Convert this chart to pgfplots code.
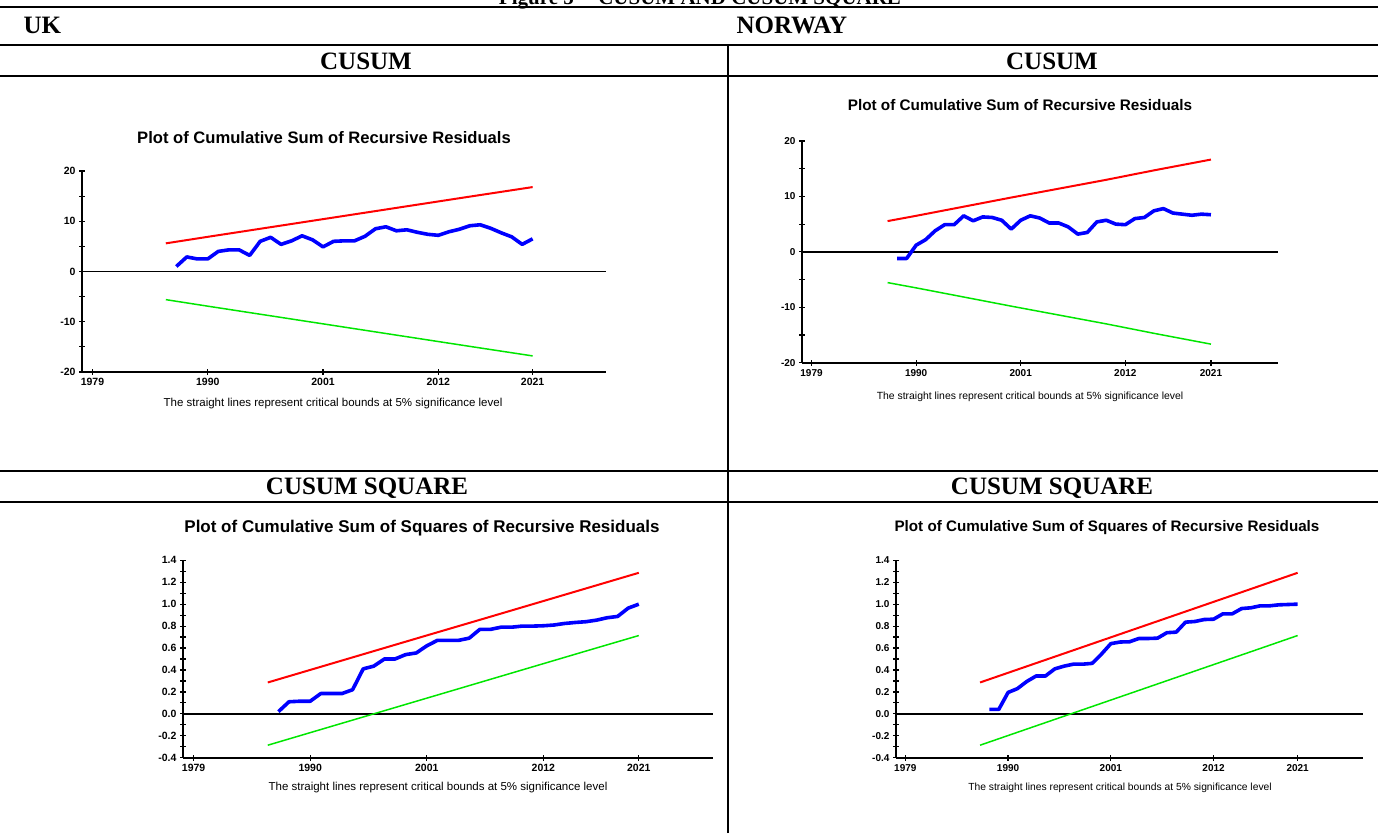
\documentclass[border=0pt]{standalone}
\usepackage{pgfplots}
\pgfplotsset{compat=1.18}
\usepackage{fontspec}
\setmainfont{Liberation Sans}
\newfontfamily\tnr{Liberation Serif}
\definecolor{cblue}{RGB}{0,0,255}
\definecolor{cred}{RGB}{255,0,0}
\definecolor{cgreen}{RGB}{0,230,0}

\pgfplotsset{
  base/.style={
    scale only axis,
    axis lines*=left,
    axis line style={black, line width=1.8pt},
    xmin=1978, xmax=2028,
    xtick={1979,1990,2001,2012,2021},
    xticklabels={1979,1990,2001,2012,2021},
    tick align=center,
    major tick length=6pt,
    minor tick length=6pt,
    tick style={black, line width=1.2pt},
    ticklabel style={font=\fontsize{10.5}{12}\selectfont\bfseries},
    clip=false,
  },
  cusum/.style={base,
    ymin=-20, ymax=20,
    ytick={-20,-15,-10,-5,0,5,10,15,20},
    yticklabels={-20,,-10,,0,,10,,20},
  },
  cusumsq/.style={base,
    ymin=-0.4, ymax=1.4,
    ytick={-0.4,-0.3,-0.2,-0.1,0,0.1,0.2,0.3,0.4,0.5,0.6,0.7,0.8,0.9,1.0,1.1,1.2,1.3,1.4},
    yticklabels={-0.4,,-0.2,,0.0,,0.2,,0.4,,0.6,,0.8,,1.0,,1.2,,1.4},
  },
  bluel/.style={cblue, line width=3.6pt, line join=round, no marks},
  redl/.style={cred, line width=2pt, no marks},
  greenl/.style={cgreen, line width=1.5pt, no marks},
  zerol/.style={black, line width=1.5pt, no marks},
}

\begin{document}
\begin{tikzpicture}
\path[use as bounding box] (0pt,0pt) rectangle (1383pt,833pt);
\clip (0pt,0pt) rectangle (1383pt,833pt);

% table frame
\draw[line width=1.2pt] (0pt,826pt) -- (1378pt,826pt);
\draw[line width=2pt] (0pt,788pt) -- (1378pt,788pt);
\draw[line width=2pt] (0pt,757pt) -- (1378pt,757pt);
\draw[line width=2pt] (0pt,362pt) -- (1378pt,362pt);
\draw[line width=2pt] (0pt,331pt) -- (1378pt,331pt);
\draw[line width=2pt] (728pt,788pt) -- (728pt,331pt);
\draw[line width=1.2pt] (728pt,331pt) -- (728pt,0pt);
\draw[line width=2.5pt] (728pt,0pt) -- (728pt,11pt);

% headers
\node[anchor=base, font=\tnr\bfseries\fontsize{21}{24}\selectfont] at (700pt,828pt) {Figure 5 -- CUSUM AND CUSUM SQUARE};
\node[anchor=west, font=\tnr\bfseries\fontsize{25}{28}\selectfont] at (20pt,808pt) {UK};
\node[anchor=west, font=\tnr\bfseries\fontsize{25}{28}\selectfont] at (733pt,808pt) {NORWAY};
\node[font=\tnr\bfseries\fontsize{25}{28}\selectfont] at (366pt,772pt) {CUSUM};
\node[font=\tnr\bfseries\fontsize{25}{28}\selectfont] at (1052pt,772pt) {CUSUM};
\node[font=\tnr\bfseries\fontsize{25}{28}\selectfont] at (367pt,345pt) {CUSUM SQUARE};
\node[font=\tnr\bfseries\fontsize{25}{28}\selectfont] at (1052pt,345pt) {CUSUM SQUARE};

% ---------------- UK CUSUM
\begin{axis}[cusum, at={(82pt,461pt)}, anchor=south west, width=524pt, height=201pt]
\addplot[zerol] coordinates {(1978,0) (2028,0)};
\addplot[redl] coordinates {(1986,5.6) (1990,6.9) (1995,8.5) (2000,10.1) (2005,11.7) (2010,13.3) (2015,14.9) (2021,16.8)};
\addplot[greenl] coordinates {(1986,-5.6) (1990,-6.9) (1995,-8.5) (2000,-10.1) (2005,-11.7) (2010,-13.3) (2015,-14.9) (2021,-16.8)};
\addplot[bluel] coordinates {
(1987,1.0) (1988,2.9) (1989,2.5) (1990,2.5) (1991,4.0) (1992,4.3) (1993,4.3) (1994,3.2)
(1995,6.0) (1996,6.8) (1997,5.4) (1998,6.1) (1999,7.1) (2000,6.3) (2001,4.9) (2002,6.0)
(2003,6.1) (2004,6.1) (2005,7.0) (2006,8.5) (2007,8.9) (2008,8.1) (2009,8.3) (2010,7.8)
(2011,7.4) (2012,7.2) (2013,7.9) (2014,8.4) (2015,9.1) (2016,9.3) (2017,8.6) (2018,7.7)
(2019,6.9) (2020,5.4) (2021,6.5)};
\end{axis}

% ---------------- NORWAY CUSUM
\begin{axis}[cusum, at={(802pt,470.3pt)}, anchor=south west, width=475.5pt, height=221.7pt,
  ticklabel style={font=\fontsize{10}{12}\selectfont\bfseries}]
\addplot[zerol] coordinates {(1978,0) (2028,0)};
\addplot[redl] coordinates {(1987,5.55) (1990,6.5) (1995,8.15) (2000,9.8) (2005,11.4) (2010,13.0) (2015,14.7) (2021,16.65)};
\addplot[greenl] coordinates {(1987,-5.55) (1990,-6.5) (1995,-8.15) (2000,-9.8) (2005,-11.4) (2010,-13.0) (2015,-14.7) (2021,-16.65)};
\addplot[bluel] coordinates {
(1988,-1.2) (1989,-1.2) (1990,1.2) (1991,2.2) (1992,3.8) (1993,4.9) (1994,4.9) (1995,6.5)
(1996,5.6) (1997,6.3) (1998,6.2) (1999,5.7) (2000,4.1) (2001,5.7) (2002,6.5) (2003,6.1)
(2004,5.2) (2005,5.2) (2006,4.5) (2007,3.2) (2008,3.5) (2009,5.4) (2010,5.7) (2011,5.0)
(2012,4.9) (2013,6.0) (2014,6.2) (2015,7.4) (2016,7.8) (2017,7.0) (2018,6.8) (2019,6.6)
(2020,6.8) (2021,6.7)};
\end{axis}

% ---------------- UK CUSUM SQUARE
\begin{axis}[cusumsq, at={(183pt,75.3pt)}, anchor=south west, width=530pt, height=197.4pt]
\addplot[zerol] coordinates {(1978,0) (2028,0)};
\addplot[redl] coordinates {(1986,0.286) (1991,0.429) (1996,0.572) (2001,0.715) (2006,0.857) (2011,1.0) (2016,1.143) (2021,1.286)};
\addplot[greenl] coordinates {(1986,-0.286) (1991,-0.143) (1996,0.0) (2001,0.143) (2006,0.286) (2011,0.429) (2016,0.572) (2021,0.714)};
\addplot[bluel] coordinates {
(1987,0.02) (1988,0.11) (1989,0.115) (1990,0.115) (1991,0.185) (1992,0.185) (1993,0.185) (1994,0.22)
(1995,0.41) (1996,0.435) (1997,0.50) (1998,0.50) (1999,0.54) (2000,0.555) (2001,0.62) (2002,0.67)
(2003,0.67) (2004,0.67) (2005,0.69) (2006,0.77) (2007,0.77) (2008,0.79) (2009,0.79) (2010,0.80)
(2011,0.80) (2012,0.803) (2013,0.81) (2014,0.824) (2015,0.833) (2016,0.84) (2017,0.854) (2018,0.876)
(2019,0.888) (2020,0.964) (2021,1.0)};
\end{axis}

% ---------------- NORWAY CUSUM SQUARE
\begin{axis}[cusumsq, at={(896pt,75.3pt)}, anchor=south west, width=467pt, height=197.4pt,
  ticklabel style={font=\fontsize{10}{12}\selectfont\bfseries}]
\addplot[zerol] coordinates {(1978,0) (2028,0)};
\addplot[redl] coordinates {(1987,0.286) (1992,0.433) (1997,0.580) (2002,0.727) (2007,0.874) (2012,1.021) (2017,1.168) (2021,1.286)};
\addplot[greenl] coordinates {(1987,-0.286) (1992,-0.139) (1997,0.008) (2002,0.155) (2007,0.302) (2012,0.449) (2017,0.596) (2021,0.714)};
\addplot[bluel] coordinates {
(1988,0.04) (1989,0.04) (1990,0.195) (1991,0.23) (1992,0.295) (1993,0.345) (1994,0.345) (1995,0.41)
(1996,0.435) (1997,0.453) (1998,0.453) (1999,0.46) (2000,0.545) (2001,0.64) (2002,0.655) (2003,0.657)
(2004,0.687) (2005,0.687) (2006,0.69) (2007,0.74) (2008,0.745) (2009,0.836) (2010,0.842) (2011,0.86)
(2012,0.863) (2013,0.912) (2014,0.912) (2015,0.96) (2016,0.967) (2017,0.985) (2018,0.985) (2019,0.994)
(2020,0.997) (2021,1.0)};
\end{axis}

% chart titles and notes
\node[font=\bfseries\fontsize{16.6}{18}\selectfont] at (324pt,695pt) {Plot of Cumulative Sum of Recursive Residuals};
\node[font=\fontsize{11.5}{13}\selectfont] at (333pt,429pt) {The straight lines represent critical bounds at 5\% significance level};
\node[font=\bfseries\fontsize{15.3}{17}\selectfont] at (1020pt,728pt) {Plot of Cumulative Sum of Recursive Residuals};
\node[font=\fontsize{10.4}{12}\selectfont] at (1030pt,436pt) {The straight lines represent critical bounds at 5\% significance level};
\node[font=\bfseries\fontsize{17}{19}\selectfont] at (422pt,305pt) {Plot of Cumulative Sum of Squares of Recursive Residuals};
\node[font=\fontsize{11.5}{13}\selectfont] at (438pt,45pt) {The straight lines represent critical bounds at 5\% significance level};
\node[font=\bfseries\fontsize{15.2}{17}\selectfont] at (1107pt,305pt) {Plot of Cumulative Sum of Squares of Recursive Residuals};
\node[font=\fontsize{10.3}{12}\selectfont] at (1120pt,45pt) {The straight lines represent critical bounds at 5\% significance level};
\end{tikzpicture}
\end{document}
